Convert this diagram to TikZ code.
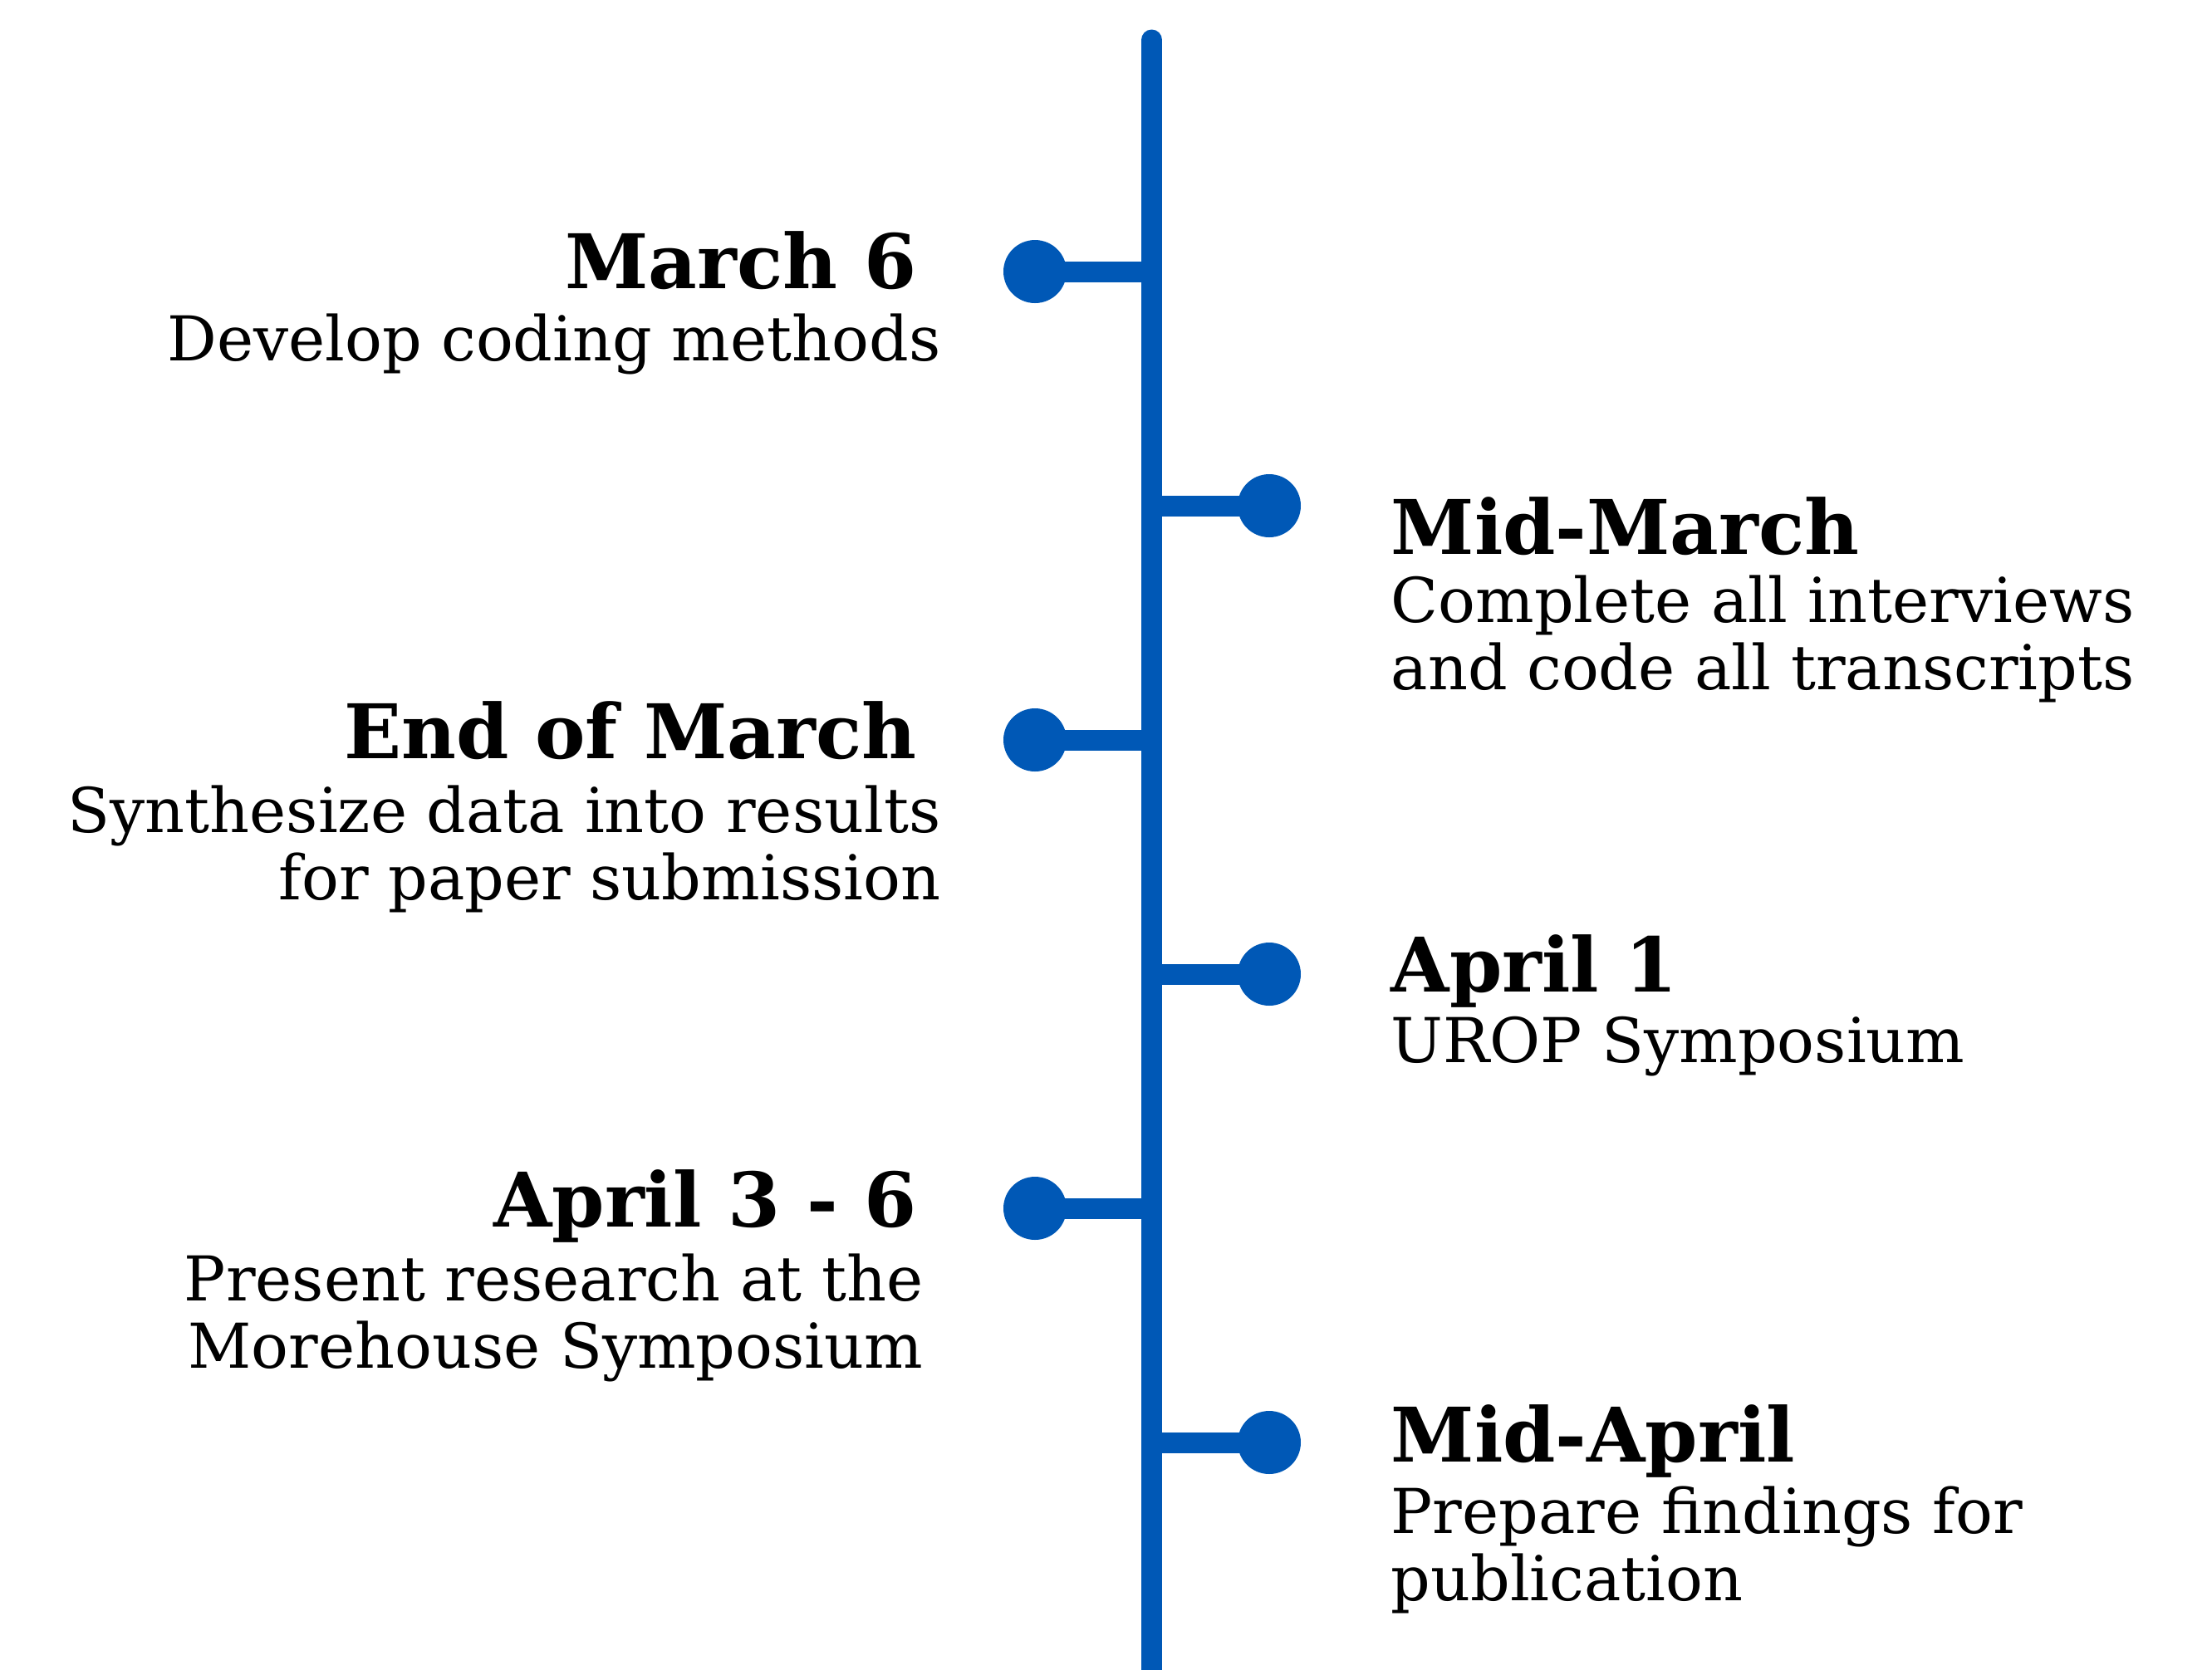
\documentclass[tikz,border=0pt]{standalone}
\usepackage{fontspec}
\setmainfont{DejaVu Serif}
\usepackage{xcolor}
\definecolor{lineblue}{RGB}{0,88,182}

\begin{document}
\begin{tikzpicture}[line cap=round,
  dot/.style={circle,fill=lineblue,inner sep=0pt,minimum size=0.76cm},
  stem/.style={lineblue,line width=0.25cm,line cap=butt},
  title/.style={inner sep=0pt,font=\fontsize{25.8}{30}\selectfont\bfseries},
  desc/.style={inner sep=0pt,font=\fontsize{21.2}{23}\selectfont}]
\useasboundingbox (0,0) rectangle (26.63,-20.11);
% spine
\coordinate (top) at (13.865,-0.48);
\coordinate (bottom) at (13.865,-20.3);
\draw[lineblue,line width=0.25cm] (top) -- (bottom);
% dots and their stems
\node[dot] (d1) at (12.46,-3.27) {};
\node[dot] (d2) at (15.28,-6.09) {};
\node[dot] (d3) at (12.46,-8.91) {};
\node[dot] (d4) at (15.28,-11.73) {};
\node[dot] (d5) at (12.46,-14.55) {};
\node[dot] (d6) at (15.28,-17.37) {};
\coordinate (s1) at (13.865,-3.27);
\coordinate (s2) at (13.865,-6.09);
\coordinate (s3) at (13.865,-8.91);
\coordinate (s4) at (13.865,-11.73);
\coordinate (s5) at (13.865,-14.55);
\coordinate (s6) at (13.865,-17.37);
\draw[stem] (d1.center) -- (s1);
\draw[stem] (d2.center) -- (s2);
\draw[stem] (d3.center) -- (s3);
\draw[stem] (d4.center) -- (s4);
\draw[stem] (d5.center) -- (s5);
\draw[stem] (d6.center) -- (s6);
% left labels (multi-line ones sit on their last line)
\node[title,anchor=base east] (t1) at (11.04,-3.47) {March 6};
\node[desc,anchor=base east,align=right] (c1) at (11.33,-4.34) {Develop coding methods};
\node[title,anchor=base east] (t3) at (11.04,-9.13) {End of March};
\node[desc,anchor=base east,align=right] (c3) at (11.33,-10.83) {Synthesize data into results\\for paper submission};
\node[title,anchor=base east] (t5) at (11.04,-14.77) {April 3 - 6};
\node[desc,anchor=base east,align=right] (c5) at (11.12,-16.47) {Present research at the\\Morehouse Symposium};
% right labels
\node[title,anchor=base west] (t2) at (16.74,-6.67) {Mid-March};
\node[desc,anchor=base west,align=left] (c2) at (16.74,-8.30) {Complete all interviews\\and code all transcripts};
\node[title,anchor=base west] (t4) at (16.74,-11.94) {April 1};
\node[desc,anchor=base west,align=left] (c4) at (16.74,-12.79) {UROP Symposium};
\node[title,anchor=base west] (t6) at (16.74,-17.60) {Mid-April};
\node[desc,anchor=base west,align=left] (c6) at (16.74,-19.27) {Prepare findings for\\publication};
\end{tikzpicture}
\end{document}
